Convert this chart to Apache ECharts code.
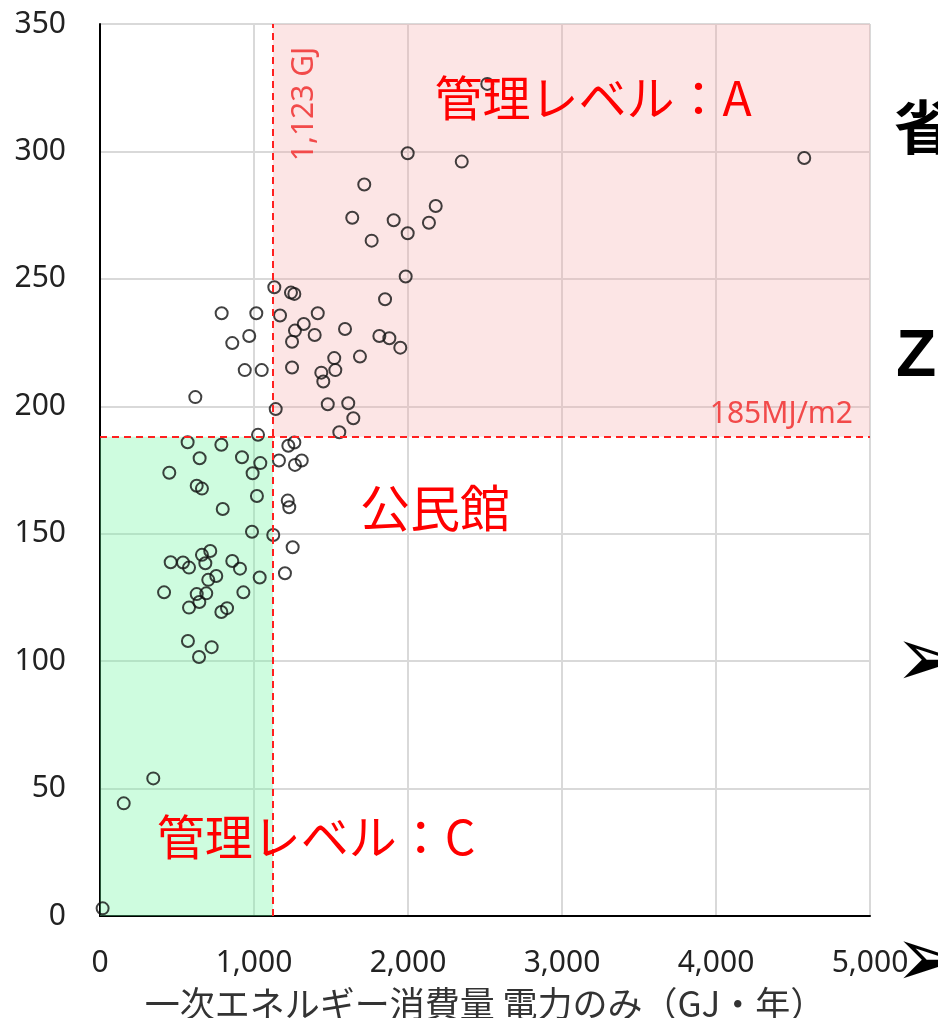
<!DOCTYPE html>
<html>
<head>
<meta charset="utf-8">
<script src="https://cdn.jsdelivr.net/npm/echarts@6/dist/echarts.min.js"></script>
<style>
  html, body { margin: 0; padding: 0; background: #fff; }
  #chart { width: 938px; height: 1018px; }
</style>
</head>
<body>
<div id="chart"></div>
<script>
// 一次エネルギー消費量 (GJ/年) と 原単位 (MJ/m2)
const energyGJ = [
  2515, 4573, 1998, 2349, 1716, 1638, 1907, 2180, 2136, 1998,
  1764, 1985, 1851, 1132, 1240, 1262, 1169, 1414, 1323, 1266,
  1247, 1394, 1591, 1814, 1879, 1950, 1688, 1521, 1528, 1437,
  1450, 1247, 1479, 1612, 1645, 1554, 1141, 790, 1015, 969,
  859, 940, 1050, 619, 1026, 1223, 1262, 1162, 1266, 1310,
  1219, 1229, 1125, 1251, 1201, 569, 788, 647, 922, 1041,
  450, 991, 628, 662, 1019, 797, 987, 716, 662, 459,
  539, 578, 684, 859, 909, 1037, 755, 703, 416, 628,
  690, 931, 645, 578, 825, 788, 571, 725, 643, 346,
  154, 17
];
const intensity = [
  326.5, 297.4, 299.3, 296, 287, 274, 273, 278.6, 272, 267.9,
  265, 250.9, 242, 246.7, 244.6, 244.1, 235.6, 236.5, 232.3, 229.7,
  225.3, 228, 230.3, 227.6, 226.7, 223, 219.5, 218.9, 214.2, 213.2,
  209.7, 215.2, 200.8, 201.2, 195.3, 189.8, 198.9, 236.5, 236.5, 227.6,
  224.8, 214.2, 214.2, 203.6, 188.8, 184.5, 185.8, 178.7, 177, 178.7,
  163, 160.4, 149.5, 144.7, 134.5, 185.9, 184.9, 179.6, 180, 177.7,
  173.9, 173.7, 168.8, 167.7, 164.8, 159.7, 150.8, 143.2, 141.7, 138.8,
  138.7, 136.7, 138.4, 139.3, 136.3, 132.8, 133.4, 131.9, 127, 126.3,
  126.6, 127, 123.2, 121, 120.8, 119.3, 107.9, 105.5, 101.6, 54,
  44.2, 3
];
const xLimit = 1123;   // GJ
const yLimit = 188;    // 185MJ/m2 line
const xMax = 5000;
const yMax = 350;

const points = energyGJ.map((v, i) => [v, intensity[i]]);

const numFont = '"Noto Sans", sans-serif';
const jpFont = '"Noto Sans CJK JP", sans-serif';

const chart = echarts.init(document.getElementById('chart'));
chart.setOption({
  animation: false,
  grid: {
    left: 100,
    right: 68,
    top: 24,
    bottom: 102,
    outerBoundsMode: 'none',
    containLabel: false,
    show: true,
    borderColor: '#8a8a8a',
    borderWidth: 1
  },
  xAxis: {
    type: 'value',
    min: 0,
    max: xMax,
    interval: 1000,
    name: '一次エネルギー消費量 電力のみ（GJ・年）',
    nameLocation: 'middle',
    nameGap: 70,
    nameTextStyle: { fontFamily: jpFont, fontSize: 35, color: '#333' },
    axisLine: { lineStyle: { color: '#000', width: 2 } },
    axisTick: { show: false },
    axisLabel: {
      fontFamily: numFont, fontSize: 30, color: '#222', margin: 32,
      formatter: v => v.toLocaleString('en-US')
    },
    splitLine: { lineStyle: { color: '#d9d9d9', width: 2 } }
  },
  yAxis: {
    type: 'value',
    min: 0,
    max: yMax,
    interval: 50,
    axisLine: { show: true, lineStyle: { color: '#000', width: 2 } },
    axisTick: { show: false },
    axisLabel: { fontFamily: numFont, fontSize: 30, color: '#222', margin: 34 },
    splitLine: { lineStyle: { color: '#d9d9d9', width: 2 } }
  },
  series: [
    {
      type: 'scatter',
      data: points,
      symbol: 'circle',
      symbolSize: 12,
      z: 2,
      itemStyle: { color: 'rgba(0,0,0,0)', borderColor: '#111', borderWidth: 2 }
    },
    {
      type: 'scatter',
      data: [],
      z: 3,
      silent: true,
      markArea: {
        silent: true,
        data: [
          [
            { coord: [xLimit, yLimit], itemStyle: { color: 'rgba(244,168,168,0.30)' } },
            { coord: [xMax, yMax] }
          ],
          [
            { coord: [0, 0], itemStyle: { color: 'rgba(110,245,160,0.34)' } },
            { coord: [xLimit, yLimit] }
          ]
        ]
      },
      markLine: {
        silent: true,
        symbol: 'none',
        label: { show: false },
        lineStyle: { color: '#ff2020', type: [7, 5], width: 2 },
        data: [
          { xAxis: xLimit },
          { yAxis: yLimit }
        ]
      }
    }
  ],
  graphic: [
    {
      type: 'text', x: 304, y: 104, rotation: Math.PI / 2, z: 10,
      style: { text: '1,123 GJ', font: '30px ' + numFont, fill: '#f24a4a', align: 'center', verticalAlign: 'middle' }
    },
    {
      type: 'text', x: 853, y: 414, z: 10,
      style: { text: '185MJ/m2', font: '30px ' + numFont, fill: '#f24a4a', align: 'right', verticalAlign: 'middle' }
    },
    {
      type: 'text', x: 593, y: 98, z: 10,
      style: { text: '管理レベル：A', font: '48px ' + jpFont, fill: '#ff0000', align: 'center', verticalAlign: 'middle' }
    },
    {
      type: 'text', x: 435, y: 508, z: 10,
      style: { text: '公民館', font: '50px ' + jpFont, fill: '#ff0000', align: 'center', verticalAlign: 'middle' }
    },
    {
      type: 'text', x: 316, y: 837, z: 10,
      style: { text: '管理レベル：C', font: '48px ' + jpFont, fill: '#ff0000', align: 'center', verticalAlign: 'middle' }
    },
    {
      type: 'text', x: 894, y: 127, z: 10,
      style: { text: '省', font: 'bold 58px ' + jpFont, fill: '#000', align: 'left', verticalAlign: 'middle' }
    },
    {
      type: 'text', x: 896, y: 358, z: 10,
      style: { text: 'Z', font: 'bold 66px "Liberation Sans", sans-serif', fill: '#000', align: 'left', verticalAlign: 'middle' }
    },
    {
      type: 'text', x: 894, y: 664, z: 10,
      style: { text: '➢', font: '84px "DejaVu Sans", sans-serif', fill: '#000', align: 'left', verticalAlign: 'middle' }
    },
    {
      type: 'text', x: 894, y: 964, z: 10,
      style: { text: '➢', font: '84px "DejaVu Sans", sans-serif', fill: '#000', align: 'left', verticalAlign: 'middle' }
    }
  ]
});
</script>
</body>
</html>
